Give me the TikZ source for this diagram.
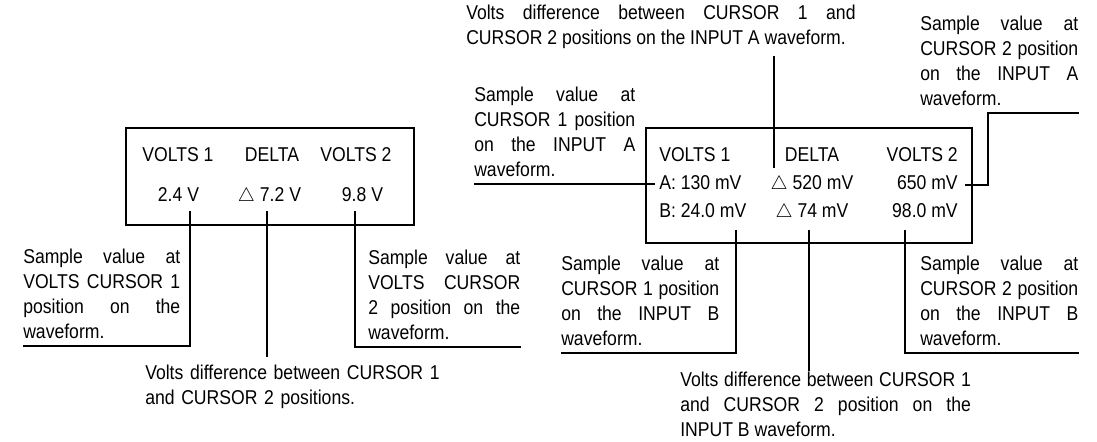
\documentclass[tikz,border=0pt]{standalone}
\usepackage{fontspec}
\setmainfont{Liberation Sans}[FakeStretch=0.88]
\newcommand\lblfont{\fontsize{15}{18.75}\selectfont}
\begin{document}
\begin{tikzpicture}[x=0.75pt, y=-0.75pt, font=\lblfont,
    txt/.style={inner sep=0pt},
    lbl/.style={inner xsep=0pt, inner ysep=5.5pt, text width=#1, align=justify},
    wire/.style={line width=1.4pt}]
  \useasboundingbox (0,0) rectangle (1097,442);
  % single input display
  \draw[wire] (126,128) rectangle (414,225);
  \foreach \x/\t/\n in {178/{VOLTS 1}/hA, 272/DELTA/hB, 356/{VOLTS 2}/hC}{
    \node[txt, anchor=base] (\n) at (\x,162) {\t};
  }
  \foreach \x/\t/\n in {178.5/{2.4 V}/vA, 269.5/{\(\triangle\) 7.2 V}/vB, 362.5/{9.8 V}/vC}{
    \node[txt, anchor=base] (\n) at (\x,202) {\t};
  }
  \path (190,211) coordinate (cA) (267,211) coordinate (cB) (355,211) coordinate (cC);
  \node[lbl=117.75pt, anchor=south west] (labA) at (23,346) {Sample value at\linebreak VOLTS CURSOR 1\linebreak position on the\linebreak waveform.};
  \node[lbl=114pt, anchor=south west] (labC) at (368,347) {Sample value at\linebreak VOLTS CURSOR\linebreak 2 position on the\linebreak waveform.};
  \node[lbl=230pt, align=left, anchor=north west] (labB) at (145,357) {Volts difference between CURSOR 1\\and CURSOR 2 positions.};
  \draw[wire] (cA) |- (labA.south west);
  \draw[wire] (cB) -- (labB.north -| cB);
  \draw[wire] (cC) |- (labC.south east);
  % dual input display
  \draw[wire] (646,128) rectangle (972,243);
  \foreach \y/\a/\b/\c/\n in {162/{VOLTS 1}/DELTA/{VOLTS 2}/1,
      190/{A: 130 mV}/{\(\triangle\) 520 mV}/{650 mV}/2,
      218/{B: 24.0 mV}/{\(\triangle\) 74 mV}/{98.0 mV}/3}{
    \node[txt, anchor=base west] (l\n) at (659,\y) {\a};
    \node[txt, anchor=base] (m\n) at (812,\y) {\b};
    \node[txt, anchor=base east] (r\n) at (958,\y) {\c};
  }
  \path (774,168) coordinate (dA) (655,184) coordinate (aL) (965,185) coordinate (aR)
        (736,230) coordinate (bL) (809,230) coordinate (dB) (905,230) coordinate (bR);
  \node[lbl=292pt, anchor=north west] (labdA) at (466,-3) {Volts difference between CURSOR 1 and\linebreak CURSOR 2 positions on the INPUT A waveform.};
  \node[lbl=120.75pt, anchor=south west] (labaL) at (474,184) {Sample value at\linebreak CURSOR 1 position\linebreak on the INPUT A\linebreak waveform.};
  \node[lbl=118.5pt, anchor=south west] (labaR) at (920,113) {Sample value at\linebreak CURSOR 2 position\linebreak on the INPUT A\linebreak waveform.};
  \node[lbl=118.5pt, anchor=south west] (labbL) at (561,353) {Sample value at\linebreak CURSOR 1 position\linebreak on the INPUT B\linebreak waveform.};
  \node[lbl=118.5pt, anchor=south west] (labbR) at (920,353) {Sample value at\linebreak CURSOR 2 position\linebreak on the INPUT B\linebreak waveform.};
  \node[lbl=218pt, anchor=north west] (labdB) at (680,364) {Volts difference between CURSOR 1\linebreak and CURSOR 2 position on the\linebreak INPUT B waveform.};
  \draw[wire] (labdA.south -| dA) -- (dA);
  \draw[wire] (labaL.south west) -- (aL);
  \draw[wire] (aR) -- ++(23,0) |- (labaR.south east);
  \draw[wire] (bL) |- (labbL.south west);
  \draw[wire] (dB) -- ([yshift=-5pt]labdB.north -| dB);
  \draw[wire] (bR) |- (labbR.south east);
\end{tikzpicture}
\end{document}
